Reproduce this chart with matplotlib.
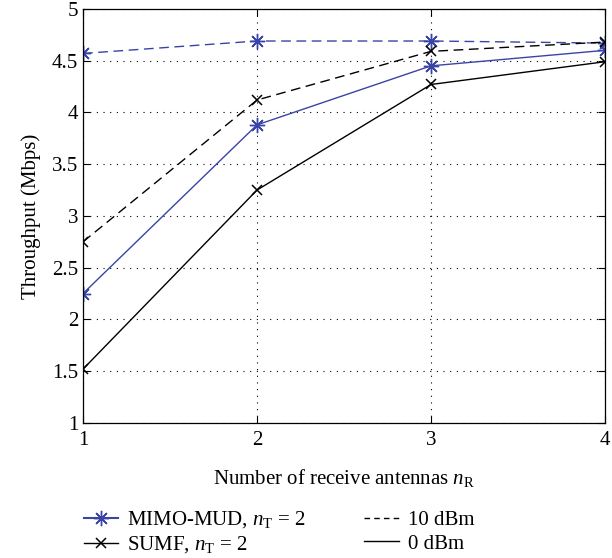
import matplotlib
matplotlib.use("Agg")
import matplotlib.pyplot as plt
from matplotlib.lines import Line2D

# number of receive antennas
n_rx = [1, 2, 3, 4]

# throughput (Mbps)
mud_10dbm = [4.57, 4.69, 4.69, 4.67]
mud_0dbm = [2.25, 3.88, 4.45, 4.60]
sumf_10dbm = [2.75, 4.12, 4.59, 4.68]
sumf_0dbm = [1.52, 3.25, 4.27, 4.49]

y_ticks = [1, 1.5, 2, 2.5, 3, 3.5, 4, 4.5, 5]
y_tick_labels = ["1", "1.5", "2", "2.5", "3", "3.5", "4", "4.5", "5"]

BLUE = "#3a44a6"
ASTERISK = (8, 2, 0)
DASH = (0, (7, 4))
FS = 15

plt.rcParams["font.family"] = "serif"
plt.rcParams["font.serif"] = ["Liberation Serif", "DejaVu Serif"]
plt.rcParams["mathtext.fontset"] = "custom"
plt.rcParams["mathtext.rm"] = "Liberation Serif"
plt.rcParams["mathtext.it"] = "Liberation Serif:italic"

fig = plt.figure(figsize=(6.12, 5.58), dpi=100)
ax = fig.add_axes([0.1356, 0.242, 0.853, 0.742])

ax.plot(n_rx, mud_10dbm, color=BLUE, ls=DASH, lw=1.0, marker=ASTERISK, ms=11, mew=1.0)
ax.plot(n_rx, mud_0dbm, color=BLUE, ls="-", lw=1.0, marker=ASTERISK, ms=11, mew=1.0)
ax.plot(n_rx, sumf_10dbm, color="black", ls=DASH, lw=1.0, marker="x", ms=7, mew=1.1)
ax.plot(n_rx, sumf_0dbm, color="black", ls="-", lw=1.0, marker="x", ms=7, mew=1.1)

ax.set_xlim(1, 4)
ax.set_ylim(1, 5)
ax.set_xticks(n_rx)
ax.set_xticklabels([str(v) for v in n_rx])
ax.set_yticks(y_ticks)
ax.set_yticklabels(y_tick_labels)
ax.tick_params(direction="in", top=True, right=True, labelsize=FS, length=5, width=0.8)
ax.tick_params(axis="x", pad=6)
ax.grid(True, color="black", ls=(0, (1, 5)), lw=0.8)
for spine in ax.spines.values():
    spine.set_linewidth(0.9)

ax.set_xlabel(r"Number of receive antennas $n_\mathrm{R}$", fontsize=FS, labelpad=12)
ax.set_ylabel("Throughput (Mbps)", fontsize=FS, labelpad=8)

handles = [
    Line2D([], [], color=BLUE, lw=1.5, marker=ASTERISK, ms=11, mew=1.0),
    Line2D([], [], color="black", lw=1.0, marker="x", ms=7, mew=1.1),
    Line2D([], [], color="black", lw=1.0, ls=(0, (4, 3))),
    Line2D([], [], color="black", lw=1.0, ls="-"),
]
labels = [
    r"MIMO-MUD, $n_\mathrm{T}$ = 2",
    r"SUMF, $n_\mathrm{T}$ = 2",
    "10 dBm",
    "0 dBm",
]
fig.legend(handles, labels, ncol=2, loc="center", bbox_to_anchor=(0.456, 0.046),
           frameon=False, fontsize=FS, handlelength=1.65, columnspacing=2.8,
           labelspacing=0.2, handletextpad=0.45)

fig.savefig("out.png", dpi=100)
